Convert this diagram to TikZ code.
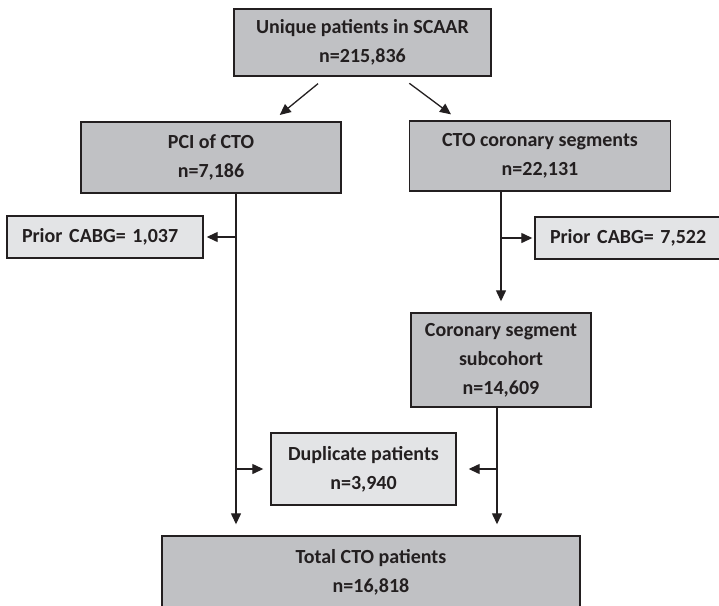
\documentclass[tikz,border=0pt]{standalone}
\usepackage{fontspec}
\setmainfont{Carlito}
\usetikzlibrary{arrows.meta,calc}
\definecolor{darkbox}{RGB}{192,193,196}
\definecolor{lightbox}{RGB}{227,228,230}
\definecolor{inkline}{RGB}{35,31,32}

\tikzset{
  flowbox/.style={draw=inkline, line width=1.4pt, fill=darkbox, align=center,
    inner sep=0pt, text=inkline, font=\bfseries\fontsize{20}{29}\selectfont},
  exclbox/.style={flowbox, fill=lightbox},
  link/.style={->, line width=1.3pt, draw=inkline}
}

\begin{document}
\begin{tikzpicture}[x=1pt, y=-1pt, >={Triangle[length=11pt,width=10pt]}]
\useasboundingbox (0,0) rectangle (719,605);

\node[flowbox, minimum width=257pt, minimum height=67pt] at (362.5, 42.5) (UNIQUE) {Unique patients in SCAAR\\n=215,836};
\node[flowbox, minimum width=260pt, minimum height=71pt] at (211, 157.5) (PCI) {PCI of CTO\\n=7,186};
\node[flowbox, minimum width=261pt, minimum height=70pt] at (540, 156) (SEGMENTS) {CTO coronary segments\\n=22,131};
\node[exclbox, minimum height=42pt, text width=166pt, inner xsep=15pt, align=left] at (105, 237) (PRIOR_PCI) {Prior CABG= 1,037};
\node[exclbox, minimum height=42pt, text width=157pt, inner xsep=15pt, align=left] at (628.5, 238) (PRIOR_SEG) {Prior CABG= 7,522};
\node[flowbox, minimum width=180pt, minimum height=94pt] at (501, 360) (SUBCOHORT) {Coronary segment\\subcohort\\n=14,609};
\node[exclbox, minimum width=185pt, minimum height=72pt] at (363.5, 469) (DUPLICATE) {Duplicate patients\\n=3,940};
\node[flowbox, minimum width=418pt, minimum height=73pt] at (371, 572.5) (TOTAL) {Total CTO patients\\n=16,818};

\draw[link, shorten <=11pt, shorten >=10pt] ([xshift=-36pt]UNIQUE.south) -- ([xshift=61pt]PCI.north);
\draw[link, shorten <=11pt, shorten >=10pt] ([xshift=38pt]UNIQUE.south) -- ([xshift=-81pt]SEGMENTS.north);

\coordinate (LEFTLINE) at ([xshift=25pt]PCI.south);
\draw[link, shorten >=11pt] (LEFTLINE) -- (LEFTLINE |- TOTAL.north);
\draw[link, shorten >=3pt] (LEFTLINE |- PRIOR_PCI.east) -- (PRIOR_PCI.east);
\draw[link, shorten >=7pt] (LEFTLINE |- DUPLICATE.west) -- (DUPLICATE.west);

\draw[link, shorten >=11pt] (SEGMENTS.south -| SUBCOHORT.north) -- (SUBCOHORT.north);
\draw[link, shorten >=2pt] (SUBCOHORT.north |- PRIOR_SEG.west) -- (PRIOR_SEG.west);
\coordinate (RIGHTLINE) at ([xshift=-4pt]SUBCOHORT.south);
\draw[link, shorten >=11pt] (RIGHTLINE) -- (RIGHTLINE |- TOTAL.north);
\draw[link, shorten >=12pt] (RIGHTLINE |- DUPLICATE.east) -- (DUPLICATE.east);
\end{tikzpicture}
\end{document}
